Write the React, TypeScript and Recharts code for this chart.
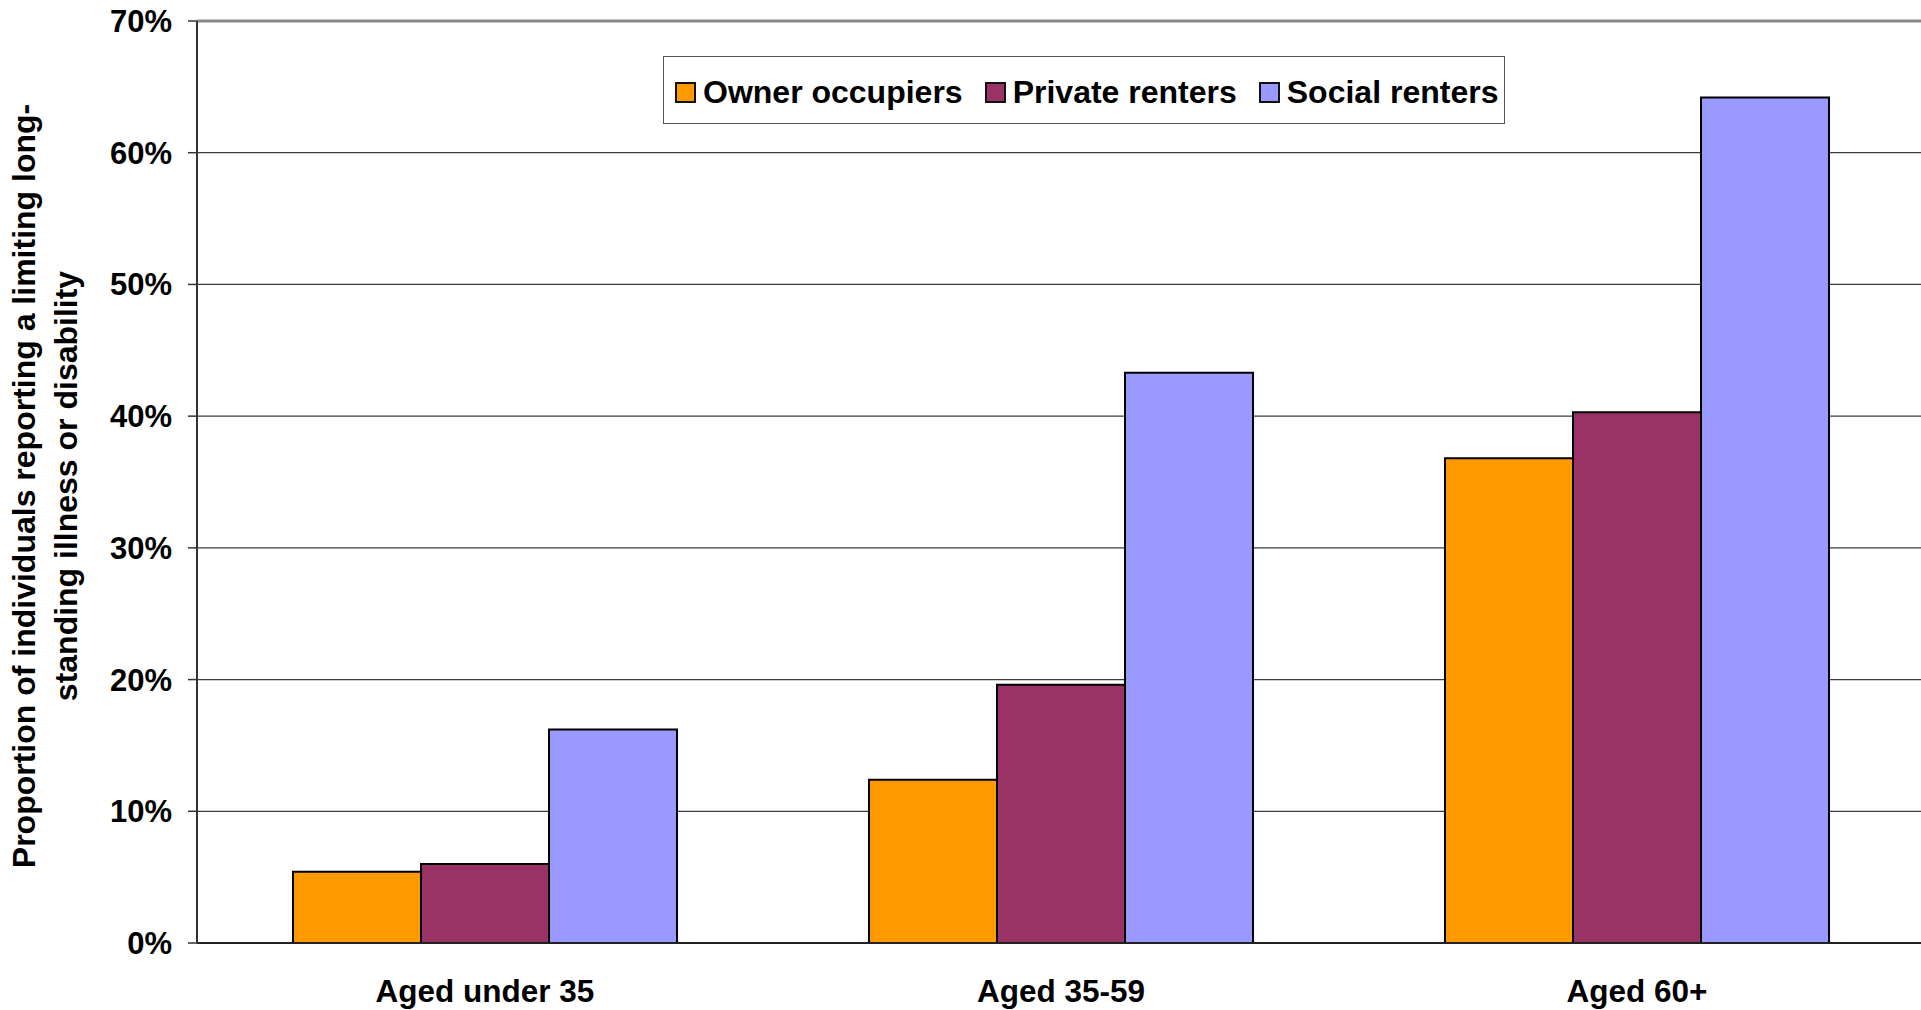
import React from 'react';
import { BarChart, Bar, XAxis, YAxis, CartesianGrid, Legend, ReferenceLine } from 'recharts';

const categories = ['Aged under 35', 'Aged 35-59', 'Aged 60+'];
const ownerOccupiers = [5.4, 12.4, 36.8];
const privateRenters = [6.0, 19.6, 40.3];
const socialRenters = [16.2, 43.3, 64.2];
const seriesNames = ['Owner occupiers', 'Private renters', 'Social renters'];
const seriesKeys = ['owner', 'private', 'social'];
const seriesColors = ['#FF9900', '#993366', '#9999FF'];
const yTicks = [0, 10, 20, 30, 40, 50, 60, 70];
const boundaryTicks = [0, 1, 2, 3];
const yLabelLines = ['Proportion of individuals reporting a limiting long-', 'standing illness or disability'];

const data = categories.map((c, i) => ({
  category: c,
  owner: ownerOccupiers[i],
  private: privateRenters[i],
  social: socialRenters[i],
}));

const FONT = '"Liberation Sans", Arial, Helvetica, sans-serif';

const YLabel = (props: any) => {
  const vb = props.viewBox || { x: 0, y: 0, width: 0, height: 0 };
  const cx = vb.x + 35;
  const cy = vb.y + vb.height / 2 + 4;
  return (
    <text
      x={cx}
      y={cy}
      transform={`rotate(-90 ${cx} ${cy})`}
      textAnchor="middle"
      fontFamily={FONT}
      fontWeight="bold"
      fontSize={32}
      fill="#000"
    >
      <tspan x={cx} dy={0}>{yLabelLines[0]}</tspan>
      <tspan x={cx} dy={42}>{yLabelLines[1]}</tspan>
    </text>
  );
};

const LegendBox = (props: any) => {
  const payload = props.payload || [];
  return (
    <div
      style={{
        boxSizing: 'border-box',
        width: 842,
        height: 68,
        border: '1.5px solid #555',
        background: '#fff',
        display: 'flex',
        alignItems: 'center',
        paddingLeft: 11,
        paddingTop: 4,
        fontFamily: FONT,
        fontWeight: 'bold',
        fontSize: 32,
        color: '#000',
      }}
    >
      {payload.map((p: any, i: number) => (
        <div key={i} style={{ display: 'flex', alignItems: 'center', marginRight: 22 }}>
          <span
            style={{
              display: 'inline-block',
              boxSizing: 'border-box',
              width: 21,
              height: 21,
              background: p.color,
              border: '2px solid #111',
              marginRight: 7,
            }}
          />
          <span style={{ whiteSpace: 'nowrap' }}>{p.value}</span>
        </div>
      ))}
    </div>
  );
};

export default function App() {
  return (
    <div
      style={{
        position: 'absolute',
        left: 0,
        top: 0,
        width: 1921,
        height: 1010,
        overflow: 'hidden',
        background: '#fff',
      }}
    >
      <BarChart
        width={1926}
        height={1010}
        data={data}
        margin={{ top: 21, right: 1, bottom: 0, left: 0 }}
        barCategoryGap="16.67%"
        barGap={0}
      >
        <CartesianGrid vertical={false} stroke="#3c3c3c" strokeWidth={1.2} />
        <XAxis
          xAxisId="bounds"
          type="number"
          domain={[0, 3]}
          ticks={boundaryTicks}
          tick={false}
          tickSize={10}
          tickLine={{ stroke: '#333', strokeWidth: 1.5 }}
          axisLine={false}
          height={0}
          allowDataOverflow
        />
        <XAxis
          xAxisId="cat"
          dataKey="category"
          type="category"
          tickLine={false}
          tickSize={0}
          tickMargin={37}
          height={67}
          axisLine={{ stroke: '#222', strokeWidth: 2 }}
          tick={{ fontFamily: FONT, fontWeight: 'bold', fontSize: 31.5, fill: '#000' }}
          interval={0}
        />
        <YAxis
          type="number"
          domain={[0, 70]}
          ticks={yTicks}
          interval={0}
          width={197}
          tickSize={9}
          tickMargin={16}
          tickFormatter={(v: number) => `${v}%`}
          axisLine={{ stroke: '#333', strokeWidth: 2 }}
          tickLine={{ stroke: '#333', strokeWidth: 1.5 }}
          tick={{ fontFamily: FONT, fontWeight: 'bold', fontSize: 31, fill: '#000' }}
          label={(p: any) => <YLabel {...p} />}
        />
        <ReferenceLine y={70} xAxisId="cat" stroke="#8a8a8a" strokeWidth={3} />
        <Legend
          layout="horizontal"
          verticalAlign="middle"
          align="center"
          content={(p: any) => <LegendBox {...p} />}
          wrapperStyle={{ position: 'absolute', left: 663, top: 56, width: 842, height: 68 }}
        />
        {seriesKeys.map((k, i) => (
          <Bar
            key={k}
            xAxisId="cat"
            dataKey={k}
            name={seriesNames[i]}
            fill={seriesColors[i]}
            stroke="#000"
            strokeWidth={2}
            isAnimationActive={false}
          />
        ))}
      </BarChart>
    </div>
  );
}
